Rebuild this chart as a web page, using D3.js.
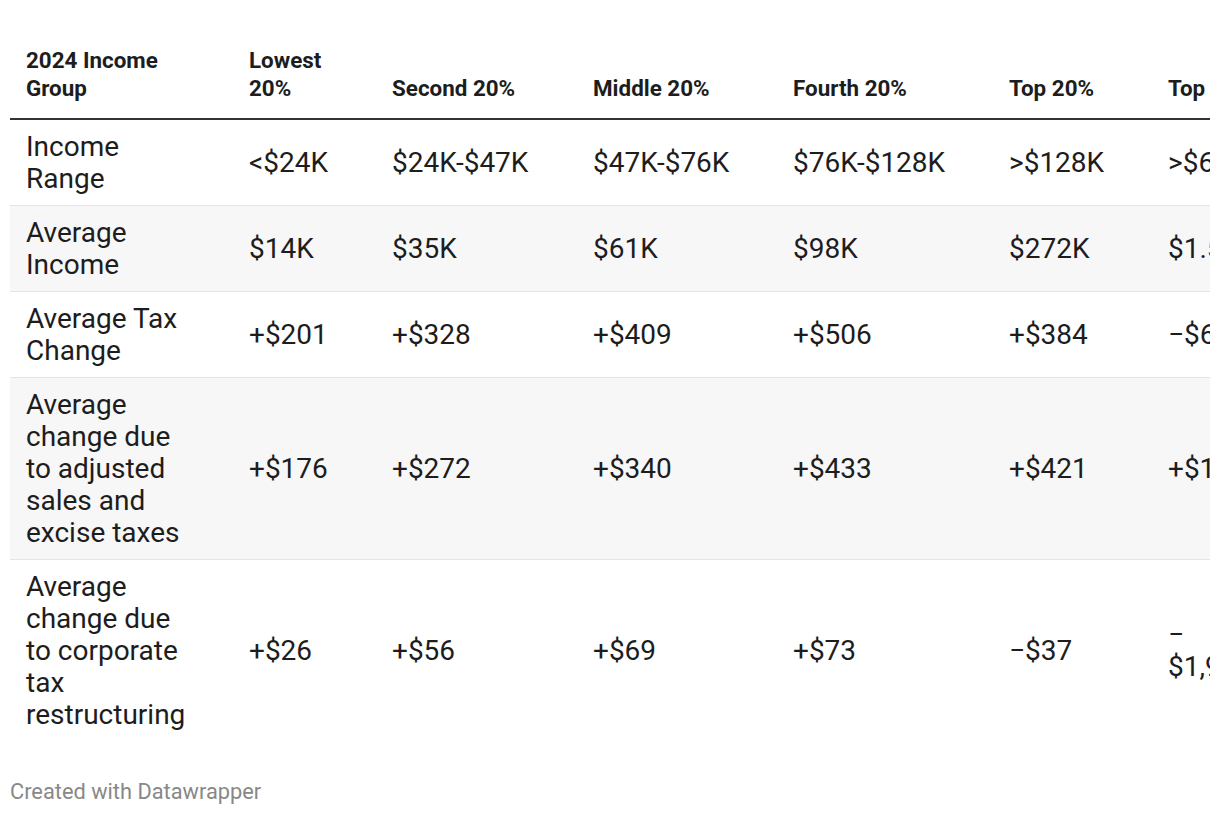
<!DOCTYPE html>
<html><head><meta charset="utf-8">
<script src="https://cdn.jsdelivr.net/npm/d3@7"></script>
<style>
html,body{margin:0;padding:0;background:#fff;}
body{width:1220px;height:816px;overflow:hidden;font-family:Roboto,sans-serif;color:#1d1d1d;}
#wrap{position:absolute;left:10px;top:46px;width:1200px;overflow:hidden;}
table{border-collapse:collapse;table-layout:fixed;width:1342px;}
th{font-weight:700;font-size:22.4px;line-height:28px;text-align:left;vertical-align:bottom;padding:0 0 16px 16px;border-bottom:2px solid #333;}
td{font-size:28px;line-height:32px;vertical-align:middle;padding:11px 0 10px 16px;border-bottom:1px solid #e4e4e4;}
tr:last-child td{border-bottom:none;}
tr.odd td{background:#f7f7f7;}
.lbl{max-width:168px;}
#foot{position:absolute;left:10px;top:779px;font-size:21.8px;color:#888;}
</style></head>
<body>
<div id="wrap"></div>
<div id="foot">Created with Datawrapper</div>
<script>
const headerCorner = "2024 Income Group";
const groups = ["Lowest 20%", "Second 20%", "Middle 20%", "Fourth 20%", "Top 20%", "Top 1%"];
const rowLabels = ["Income Range", "Average Income", "Average Tax Change",
  "Average change due to adjusted sales and excise taxes",
  "Average change due to corporate tax restructuring"];
const incomeRange = ["<$24K", "$24K-$47K", "$47K-$76K", "$76K-$128K", ">$128K", ">$664K"];
const averageIncome = ["$14K", "$35K", "$61K", "$98K", "$272K", "$1.5M"];
const avgTaxChange = [201, 328, 409, 506, 384, -625];
const salesExciseChange = [176, 272, 340, 433, 421, 1328];
const corporateChange = [26, 56, 69, 73, -37, -1953];

const colWidths = [223, 143, 201, 200, 216, 159, 200];
const fmt = v => (v < 0 ? "\u2212" : "+") + "$" + d3.format(",")(Math.abs(v));

const rows = [
  [rowLabels[0], ...incomeRange],
  [rowLabels[1], ...averageIncome],
  [rowLabels[2], ...avgTaxChange.map(fmt)],
  [rowLabels[3], ...salesExciseChange.map(fmt)],
  [rowLabels[4], ...corporateChange.map(fmt)]
];

const table = d3.select("#wrap").append("table");
table.append("colgroup").selectAll("col").data(colWidths).join("col").style("width", d => d + "px");
const thead = table.append("thead").append("tr");
thead.selectAll("th").data([headerCorner, ...groups]).join("th")
  .style("padding-right", (d, i) => i === 1 ? "30px" : (i === 6 ? "99px" : null))
  .append("div").attr("class", (d, i) => i === 0 ? "lbl" : null).text(d => d);
const tb = table.append("tbody");
const tr = tb.selectAll("tr").data(rows).join("tr").attr("class", (d, i) => i % 2 ? "odd" : null);
tr.selectAll("td").data(d => d).join("td")
  .style("padding-right", (d, i) => i === 6 ? "99px" : null)
  .append("div").attr("class", (d, i) => i === 0 ? "lbl" : null).text(d => d);
</script>
</body></html>
